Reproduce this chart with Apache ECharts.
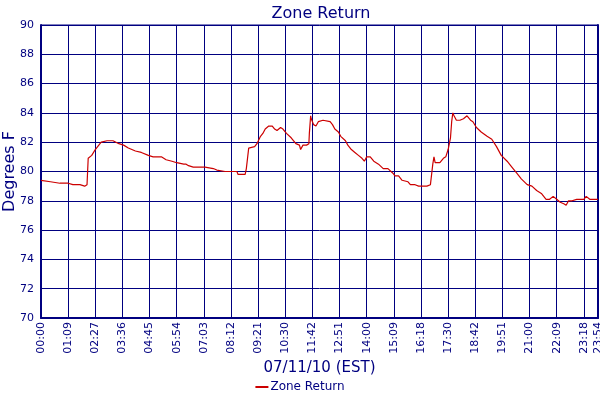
<!DOCTYPE html>
<html><head><meta charset="utf-8">
<script src="https://cdn.jsdelivr.net/npm/echarts@6/dist/echarts.min.js"></script>
<style>html,body{margin:0;padding:0;background:#fff}#c{width:600px;height:400px}</style>
</head><body><div id="c"></div>
<script>
// x = sample index (one tick label every 23 samples, last sample 472)
const tickLabels = ["00:00","01:09","02:27","03:36","04:45","05:54","07:03","08:12","09:21","10:30","11:42","12:51","14:00","15:09","16:18","17:30","18:42","19:51","21:00","22:09","23:18"];
const lastLabel = "23:54";
const lastIndex = 472;
const sampleIdx = [0,8,16,23,27,33,34,37,39,40,43,46,49,51,56,61,66,70,74,80,85,91,95,102,106,111,115,121,
  123,125,129,139,140,146,149,156,166,167,173,174,175,176,177,181,183,186,188,190,193,196,198,200,203,205,208,212,216,219,220,222,225,227,227.4,228.5,229,231,233,235,239,
  245,247,249,252,254,258,260,263,266,269,272,274,276,279,282,286,290,294,298,300,303,306,311,313,317,320,327,330,331,332,333,334,338,341,343,345,347,348,349,350,352,355,358,
  361,364,366,369,373,378,382,386,390,395,399,403,407,412,416,420,424,428,431,434,437,440,443,445,447,450,454,460,462,465,472];
const zoneReturn = [79.4,79.3,79.2,79.2,79.1,79.1,79.0,79.0,79.1,80.9,81.1,81.5,81.8,82.0,82.1,82.1,81.9,81.8,81.6,81.4,81.3,81.1,81.0,81.0,80.8,80.7,80.6,80.5,
  80.5,80.4,80.3,80.3,80.2,80.2,80.1,80.0,80.0,79.8,79.8,80.2,80.9,81.6,81.7,81.7,81.9,82.4,82.6,82.9,83.1,83.1,82.9,82.8,83.0,82.9,82.6,82.3,81.9,81.8,81.5,81.8,81.8,81.9,82.6,83.8,83.6,83.2,83.1,83.4,83.5,
  83.4,83.2,82.9,82.7,82.4,82.1,81.8,81.5,81.3,81.1,80.9,80.7,81.0,81.0,80.7,80.5,80.2,80.2,79.9,79.7,79.7,79.4,79.3,79.1,79.1,79.0,79.0,79.1,79.8,80.5,81.0,80.6,80.6,80.9,81.0,81.5,82.3,83.4,84.0,83.8,83.5,83.5,83.6,
  83.8,83.5,83.4,83.0,82.7,82.4,82.2,81.7,81.1,80.7,80.3,79.9,79.5,79.1,79.0,78.7,78.5,78.1,78.1,78.3,78.1,77.9,77.8,77.7,78.0,78.0,78.1,78.1,78.3,78.1,78.1];

const NAVY = '#000080';
const FONT = 'DejaVu Sans';
const chart = echarts.init(document.getElementById('c'));
chart.setOption({
  animation: false,
  backgroundColor: '#fff',
  title: {
    text: 'Zone Return', left: 316, top: 1, textAlign: 'center',
    textStyle: {color: NAVY, fontSize: 16, fontWeight: 'normal', fontFamily: FONT}
  },
  legend: {
    bottom: 2, left: 'center', data: ['Zone Return'],
    icon: 'rect', itemWidth: 13, itemHeight: 2, itemGap: 4,
    textStyle: {color: NAVY, fontSize: 12, fontFamily: FONT, padding: [0,0,0,-3]}
  },
  grid: {left: 41, right: 2, top: 25, bottom: 82, containLabel: false, outerBoundsMode: 'none',
    show: true, borderColor: NAVY, borderWidth: 1},
  xAxis: {
    type: 'value', min: 0, max: lastIndex, interval: 23,
    name: '07/11/10 (EST)', nameLocation: 'middle', nameGap: 43, nameMoveOverlap: false,
    nameTextStyle: {color: NAVY, fontSize: 15, fontFamily: FONT},
    axisLine: {show: true, onZero: false, lineStyle: {color: NAVY, width: 2}},
    axisTick: {show: false},
    splitLine: {show: true, lineStyle: {color: NAVY, width: 1}},
    axisLabel: {
      rotate: 90, color: NAVY, fontSize: 11, fontFamily: FONT, margin: 4,
      showMinLabel: true, showMaxLabel: true,
      formatter: v => v === lastIndex ? lastLabel : (tickLabels[Math.round(v / 23)] || '')
    }
  },
  yAxis: [{
    type: 'value', min: 70, max: 90, interval: 2,
    name: 'Degrees F', nameLocation: 'middle', nameGap: 23, nameMoveOverlap: false,
    nameTextStyle: {color: NAVY, fontSize: 16, fontFamily: FONT},
    axisLine: {show: true, lineStyle: {color: NAVY, width: 2}},
    axisTick: {show: false},
    splitLine: {show: true, lineStyle: {color: NAVY, width: 1}},
    axisLabel: {color: NAVY, fontSize: 11, fontFamily: FONT, margin: 7}
  }, {
    type: 'value', min: 70, max: 90, interval: 2, position: 'right',
    axisLine: {show: true, lineStyle: {color: NAVY, width: 2}},
    axisTick: {show: false}, axisLabel: {show: false}, splitLine: {show: false}
  }],
  series: [{
    name: 'Zone Return', type: 'line', showSymbol: false,
    lineStyle: {color: '#cc0000', width: 1.2}, itemStyle: {color: '#cc0000'},
    data: sampleIdx.map((s, i) => [s, zoneReturn[i]])
  }]
});
</script></body></html>
